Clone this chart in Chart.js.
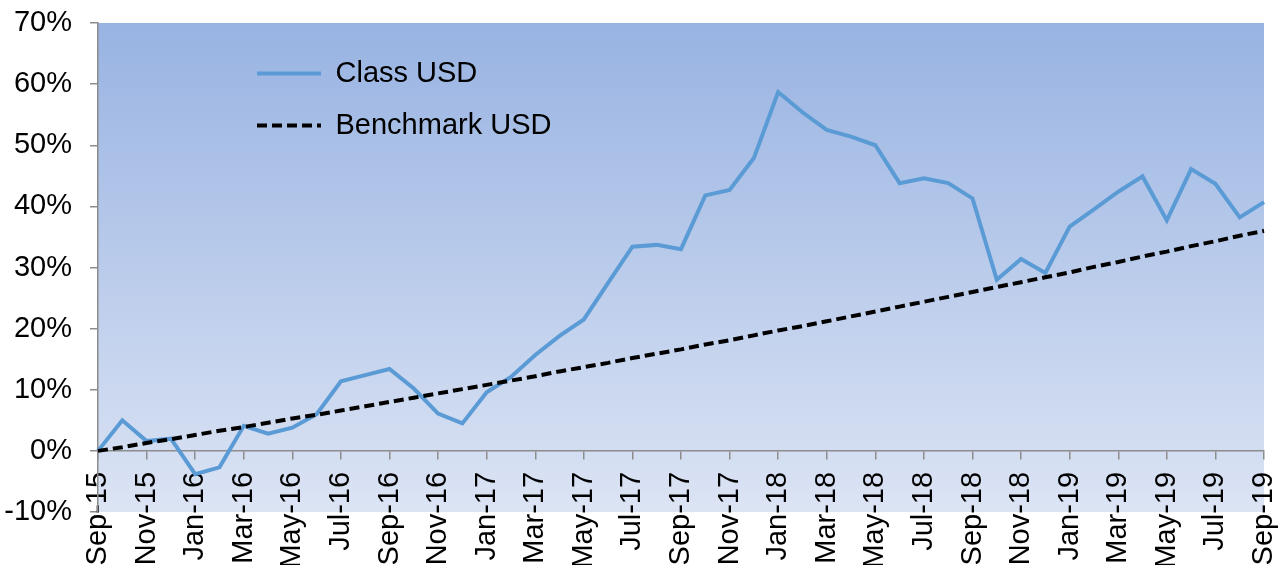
<!DOCTYPE html>
<html>
<head>
<meta charset="utf-8">
<script src="https://cdn.jsdelivr.net/npm/chart.js@4/dist/chart.umd.min.js"></script>
<style>
  html, body { margin: 0; padding: 0; background: #fff; }
  #wrap { width: 1287px; height: 565px; }
</style>
</head>
<body>
<div id="wrap"><canvas id="perf-chart" width="1287" height="565"></canvas></div>
<script>
const months = [
    'Sep-15', 'Oct-15', 'Nov-15', 'Dec-15', 'Jan-16', 'Feb-16', 'Mar-16', 'Apr-16', 'May-16', 'Jun-16', 'Jul-16', 'Aug-16',
    'Sep-16', 'Oct-16', 'Nov-16', 'Dec-16', 'Jan-17', 'Feb-17', 'Mar-17', 'Apr-17', 'May-17', 'Jun-17', 'Jul-17', 'Aug-17',
    'Sep-17', 'Oct-17', 'Nov-17', 'Dec-17', 'Jan-18', 'Feb-18', 'Mar-18', 'Apr-18', 'May-18', 'Jun-18', 'Jul-18', 'Aug-18',
    'Sep-18', 'Oct-18', 'Nov-18', 'Dec-18', 'Jan-19', 'Feb-19', 'Mar-19', 'Apr-19', 'May-19', 'Jun-19', 'Jul-19', 'Aug-19',
    'Sep-19'
];

const classUSD = [
    0.0, 5.0, 1.6, 2.0, -3.8, -2.7, 4.1, 2.8, 3.8, 6.0, 11.4, 12.4,
    13.4, 10.2, 6.1, 4.5, 9.6, 12.1, 15.7, 18.8, 21.5, 27.5, 33.4, 33.7,
    33.0, 41.8, 42.7, 47.9, 58.7, 55.4, 52.5, 51.4, 50.0, 43.8, 44.6, 43.8,
    41.3, 28.0, 31.4, 29.1, 36.7, 39.5, 42.4, 44.9, 37.7, 46.1, 43.7, 38.2,
    40.7
];

const benchmarkUSD = [
    0.0, 0.6, 1.3, 1.9, 2.6, 3.3, 3.9, 4.6, 5.3, 5.9, 6.6, 7.3,
    8.0, 8.7, 9.4, 10.1, 10.8, 11.5, 12.2, 13.0, 13.7, 14.4, 15.2, 15.9,
    16.6, 17.4, 18.1, 18.9, 19.7, 20.4, 21.2, 22.0, 22.8, 23.6, 24.4, 25.2,
    26.0, 26.8, 27.6, 28.4, 29.2, 30.1, 30.9, 31.8, 32.6, 33.5, 34.3, 35.2,
    36.0
];

const yMin = -10;
const yMax = 70;
const yStep = 10;

// plot area gradient (dark blue at top, pale at bottom)
const plotBackground = {
    id: 'plotBackground',
    beforeDraw(chart) {
        const { ctx, chartArea: a } = chart;
        const g = ctx.createLinearGradient(0, a.top, 0, a.bottom);
        g.addColorStop(0, '#98b3e2');
        g.addColorStop(1, '#dce4f4');
        ctx.save();
        ctx.fillStyle = g;
        ctx.fillRect(a.left, a.top, a.right - a.left, a.bottom - a.top);
        ctx.restore();
    }
};

// move the legend inside the plot, like the original
const legendOffset = {
    id: 'legendOffset',
    afterLayout(chart) {
        const lg = chart.legend;
        if (!lg) return;
        lg.left += 136; lg.right += 136;
        lg.top += 36; lg.bottom += 36;
    }
};

// no extra padding from the scales: layout.padding decides the plot box
function noScalePadding(s) {
    s.paddingTop = 0; s.paddingBottom = 0;
    s.paddingLeft = 0; s.paddingRight = 0;
}

const font = { family: "'Liberation Sans', Arial, sans-serif", size: 29 };

new Chart(document.getElementById('perf-chart'), {
    type: 'line',
    data: {
        labels: months,
        datasets: [{
            label: 'Class USD',
            data: classUSD,
            borderColor: '#5b9bd5',
            backgroundColor: '#5b9bd5',
            borderWidth: 4,
            pointRadius: 0,
            tension: 0,
            order: 1
        }, {
            label: 'Benchmark USD',
            data: benchmarkUSD,
            borderColor: '#000000',
            backgroundColor: '#000000',
            borderWidth: 4,
            borderDash: [10, 5],
            pointRadius: 0,
            tension: 0,
            order: 0
        }]
    },
    options: {
        responsive: false,
        animation: false,
        layout: { padding: { top: 23, right: 23, bottom: 53, left: 0 } },
        plugins: {
            tooltip: { enabled: false },
            legend: {
                position: 'chartArea',
                align: 'start',
                labels: {
                    font: font,
                    color: '#000',
                    usePointStyle: true,
                    pointStyle: 'line',
                    pointStyleWidth: 64,
                    boxWidth: 64,
                    padding: 23,
                    sort: (a, b) => a.datasetIndex - b.datasetIndex,
                    generateLabels(chart) {
                        const items = Chart.defaults.plugins.legend.labels.generateLabels(chart);
                        items.forEach(it => {
                            const ds = chart.data.datasets[it.datasetIndex];
                            it.lineDash = ds.borderDash || [];
                            it.lineWidth = ds.borderWidth;
                            it.strokeStyle = ds.borderColor;
                        });
                        return items;
                    }
                }
            }
        },
        scales: {
            x: {
                type: 'category',
                position: { y: 0 },
                afterFit(s) { s.height = 0; noScalePadding(s); },
                grid: {
                    drawOnChartArea: false,
                    tickLength: 8,
                    lineWidth: 1.5,
                    color: ctx => (ctx.index % 2 ? 'rgba(0,0,0,0)' : '#8c8c8c')
                },
                border: { color: '#8c8c8c', width: 1.5 },
                ticks: {
                    autoSkip: false,
                    minRotation: 90,
                    maxRotation: 90,
                    padding: 13,
                    color: '#000',
                    font: font,
                    callback(v, i) { return i % 2 ? '' : months[i]; }
                }
            },
            y: {
                min: yMin,
                max: yMax,
                afterFit(s) { s.width = 98; noScalePadding(s); },
                grid: { drawOnChartArea: false, tickLength: 8, lineWidth: 1.5, color: '#8c8c8c' },
                border: { color: '#8c8c8c', width: 1.5 },
                ticks: {
                    stepSize: yStep,
                    padding: 18,
                    color: '#000',
                    font: font,
                    callback: v => v + '%'
                }
            }
        }
    },
    plugins: [plotBackground, legendOffset]
});
</script>
</body>
</html>
